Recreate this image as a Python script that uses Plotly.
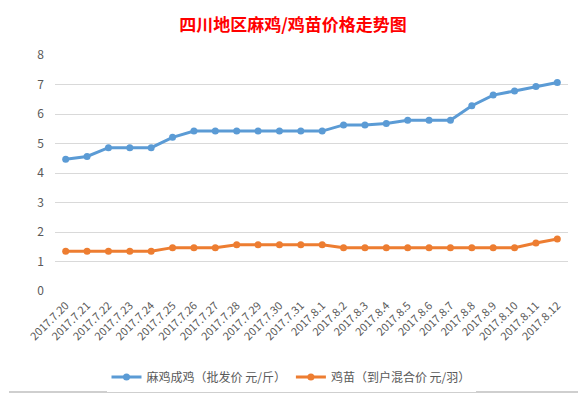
import plotly.graph_objects as go

dates = ["2017.7.20", "2017.7.21", "2017.7.22", "2017.7.23", "2017.7.24", "2017.7.25",
         "2017.7.26", "2017.7.27", "2017.7.28", "2017.7.29", "2017.7.30", "2017.7.31",
         "2017.8.1", "2017.8.2", "2017.8.3", "2017.8.4", "2017.8.5", "2017.8.6",
         "2017.8.7", "2017.8.8", "2017.8.9", "2017.8.10", "2017.8.11", "2017.8.12"]
adult_chicken = [4.47, 4.56, 4.86, 4.86, 4.86, 5.21, 5.42, 5.42, 5.42, 5.42, 5.42, 5.42,
                 5.42, 5.63, 5.63, 5.68, 5.79, 5.79, 5.79, 6.28, 6.64, 6.78, 6.93, 7.07]
chick = [1.35, 1.35, 1.35, 1.35, 1.35, 1.47, 1.47, 1.47, 1.57, 1.57, 1.57, 1.57,
         1.57, 1.47, 1.47, 1.47, 1.47, 1.47, 1.47, 1.47, 1.47, 1.47, 1.63, 1.76]
series_names = ["麻鸡成鸡（批发价 元/斤）", "鸡苗（到户混合价 元/羽）"]
y_ticks = [0, 1, 2, 3, 4, 5, 6, 7, 8]

W, H = 586, 398
OFF = 8  # default page body margin
# plot area in page pixels: x 55..568, y 55..291
ml = 55 - OFF
mt = 55 - OFF
mr = (W + OFF) - 568
mb = (H + OFF) - 291

fig = go.Figure()
fig.add_trace(go.Scatter(x=dates, y=adult_chicken, name=series_names[0], mode="lines+markers",
                         line=dict(color="#5B9BD5", width=3), marker=dict(size=7, color="#5B9BD5")))
fig.add_trace(go.Scatter(x=dates, y=chick, name=series_names[1], mode="lines+markers",
                         line=dict(color="#ED7D31", width=3), marker=dict(size=7, color="#ED7D31")))

pw = W - ml - mr
ph = H - mt - mb
def px_x(p):  # page px -> paper
    return (p - OFF - ml) / pw
def px_y(p):
    return (H - mb - (p - OFF)) / ph

frame = dict(color="#BFBFBF", width=1.5)
fig.add_shape(type="line", xref="paper", yref="paper",
              x0=px_x(580), x1=px_x(580), y0=px_y(392), y1=px_y(2), line=frame)
fig.add_shape(type="line", xref="paper", yref="paper",
              x0=px_x(9), x1=px_x(580), y0=px_y(392), y1=px_y(392), line=frame)

fig.update_layout(
    width=W, height=H,
    margin=dict(l=ml, r=mr, t=mt, b=mb, autoexpand=False),
    paper_bgcolor="white", plot_bgcolor="white",
    font=dict(family="Noto Sans CJK SC, sans-serif", color="#595959"),
    title=dict(text="<b>四川地区麻鸡/鸡苗价格走势图</b>", x=(293 - OFF) / W, xanchor="center",
               y=1 - (25 - OFF) / H, yanchor="middle",
               font=dict(size=17, color="#FF0000", family="Noto Sans CJK SC, sans-serif")),
    showlegend=True,
    legend=dict(orientation="h", x=px_x(291), xanchor="center", y=px_y(377), yanchor="middle",
                font=dict(size=12, color="#595959"), itemwidth=30),
    xaxis=dict(type="category", tickangle=-45, tickfont=dict(size=11, color="#595959"),
               showgrid=False, showline=False, ticks="", range=[-0.5, len(dates) - 0.5],
               zeroline=False, automargin=False, ticklabelstandoff=5),
    yaxis=dict(range=[0, 8], tickvals=y_ticks, tickfont=dict(size=12, color="#595959"),
               gridcolor="#D9D9D9", gridwidth=1, zeroline=False, showline=False, ticks="",
               ticklabelstandoff=10, automargin=False),
)

fig.write_html("out.html")
